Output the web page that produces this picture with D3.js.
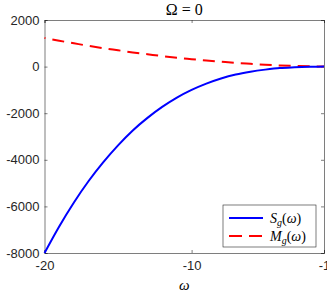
<!DOCTYPE html>
<html>
<head>
<meta charset="utf-8">
<script src="https://cdn.jsdelivr.net/npm/d3@7"></script>
<style>
  body { margin: 0; background: #fff; }
  .axis text { font-family: 'Liberation Sans', Arial, sans-serif; font-size: 13px; fill: #262626; }
  .axis path, .axis line { stroke: #262626; stroke-width: 0.6; }
  .tex { font-family: 'Liberation Serif', 'DejaVu Serif', serif; fill: #000; }
</style>
</head>
<body>
<div id="chart"></div>
<script>
// values
var omega = [-20, -19, -18, -17, -16, -15, -14, -13, -12, -11, -10, -9, -8, -7, -6, -5, -4, -3, -2, -1];
var sg = [-8000, -6860, -5830, -4910, -4100, -3380, -2740, -2200, -1730, -1330, -1000, -730, -510, -340, -220, -130, -60, -30, -10, 0];
var mg = [1230, 1110, 1000, 890, 790, 700, 610, 530, 450, 380, 320, 260, 210, 160, 120, 80, 50, 30, 15, 5];
var xTicks = [-20, -10, -1];
var yTicks = [2000, 0, -2000, -4000, -6000, -8000];

var W = 327, H = 294;
var margin = {top: 20, right: 3, bottom: 41, left: 44.5};
var width = W - margin.left - margin.right,
    height = H - margin.top - margin.bottom;

var svg = d3.select("#chart").append("svg").attr("width", W).attr("height", H);
var g = svg.append("g").attr("transform", "translate(" + margin.left + "," + margin.top + ")");

var x = d3.scaleLinear().domain([-20, -1]).range([0, width]);
var y = d3.scaleLinear().domain([-8000, 2000]).range([height, 0]);

// box with ticks on all sides (inward)
g.append("g").attr("class", "axis")
  .attr("transform", "translate(0," + height + ")")
  .call(d3.axisBottom(x).tickValues(xTicks).tickSize(-3).tickPadding(8).tickFormat(d3.format("d")));
g.append("g").attr("class", "axis")
  .call(d3.axisTop(x).tickValues(xTicks).tickSize(-3).tickFormat(""));
g.append("g").attr("class", "axis")
  .call(d3.axisLeft(y).tickValues(yTicks).tickSize(-3).tickPadding(5).tickFormat(d3.format("d")));
g.append("g").attr("class", "axis")
  .attr("transform", "translate(" + width + ",0)")
  .call(d3.axisRight(y).tickValues(yTicks).tickSize(-3).tickFormat(""));
g.selectAll(".axis text").text(function() { return this.textContent.replace("\u2212", "-"); });

var line = function(vals) {
  return d3.line()
    .x(function(d, i) { return x(omega[i]); })
    .y(function(d) { return y(d); })
    .curve(d3.curveMonotoneX)(vals);
};

g.append("path").attr("d", line(mg))
  .attr("fill", "none").attr("stroke", "#ff0000").attr("stroke-width", 2)
  .attr("stroke-dasharray", "12,7").attr("stroke-dashoffset", 11);
g.append("path").attr("d", line(sg))
  .attr("fill", "none").attr("stroke", "#0000ff").attr("stroke-width", 2);

// title
svg.append("text").attr("class", "tex")
  .attr("x", margin.left + width / 2).attr("y", 14.5)
  .attr("text-anchor", "middle").attr("font-size", 16)
  .text("\u03A9 = 0");

// x label
svg.append("text").attr("class", "tex")
  .attr("x", margin.left + width / 2).attr("y", 290)
  .attr("text-anchor", "middle").attr("font-size", 15).attr("font-style", "italic")
  .text("\u03C9");

// legend
var leg = svg.append("g").attr("transform", "translate(223,205)");
leg.append("rect").attr("width", 93).attr("height", 42)
  .attr("fill", "#fff").attr("stroke", "#262626").attr("stroke-width", 0.6);
var items = [
  {name: "S", color: "#0000ff", dash: null},
  {name: "M", color: "#ff0000", dash: "13,7"}
];
items.forEach(function(it, i) {
  var cy = 13 + i * 18;
  leg.append("line").attr("x1", 6).attr("x2", 40).attr("y1", cy).attr("y2", cy)
    .attr("stroke", it.color).attr("stroke-width", 2)
    .attr("stroke-dasharray", it.dash);
  var t = leg.append("text").attr("class", "tex").attr("x", 47).attr("y", cy + 4.5)
    .attr("font-size", 14);
  t.append("tspan").attr("font-style", "italic").text(it.name);
  t.append("tspan").attr("font-style", "italic").attr("font-size", 10).attr("dy", 3).text("g");
  t.append("tspan").attr("dy", -3).text("(");
  t.append("tspan").attr("font-style", "italic").text("\u03C9");
  t.append("tspan").text(")");
});
</script>
</body>
</html>
